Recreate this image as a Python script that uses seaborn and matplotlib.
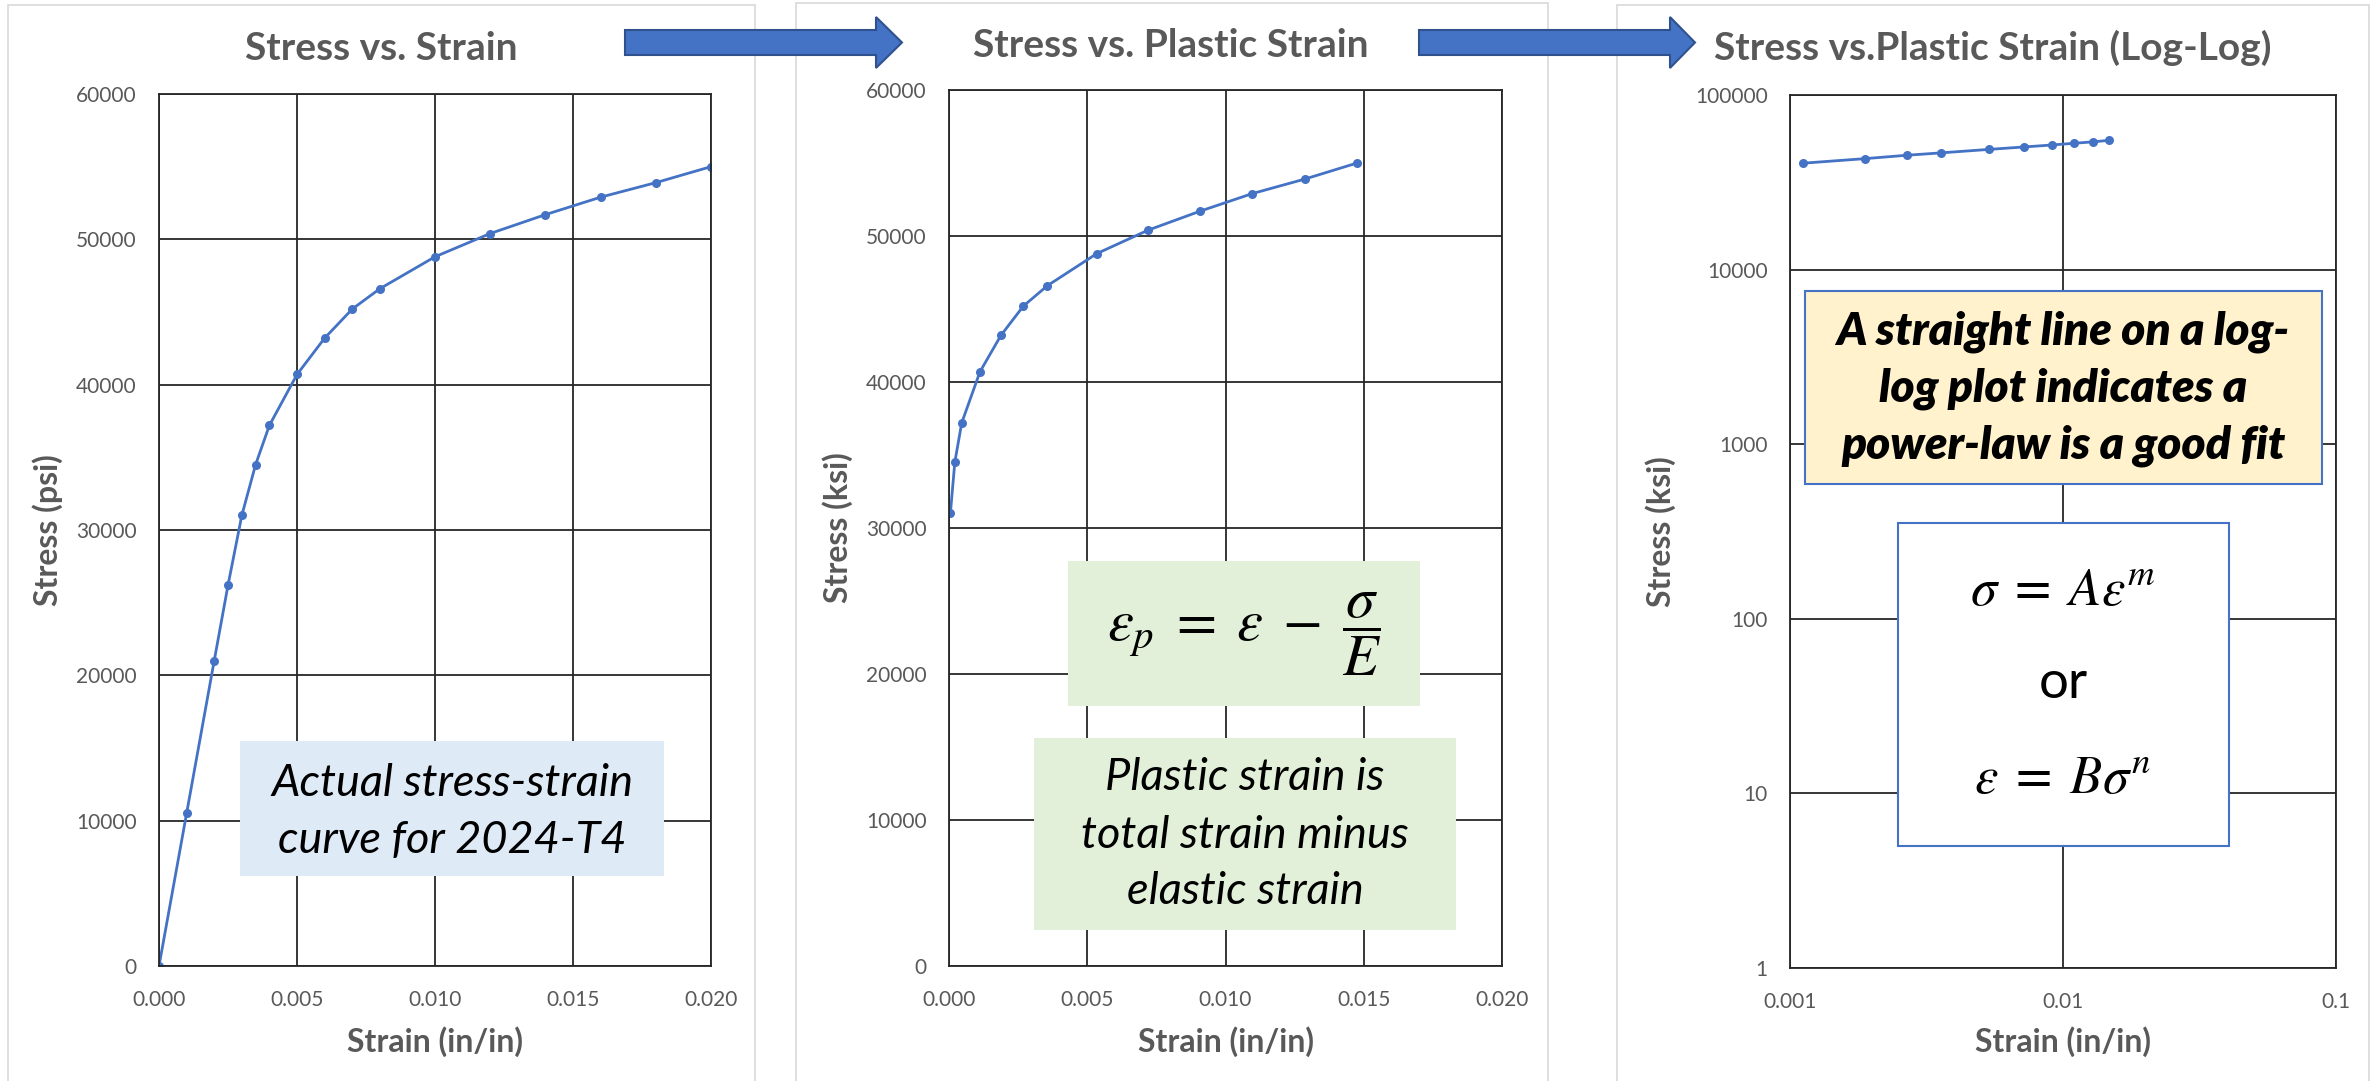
import matplotlib
matplotlib.use("Agg")
import matplotlib.pyplot as plt
import seaborn as sns
import pandas as pd
from matplotlib.patches import Rectangle, Polygon
from matplotlib.ticker import FixedLocator, NullLocator

# --- data -------------------------------------------------------------
strain = [0.0, 0.001, 0.002, 0.0025, 0.003, 0.0035, 0.004, 0.005, 0.006,
          0.007, 0.008, 0.010, 0.012, 0.014, 0.016, 0.018, 0.020]
stress = [0, 10500, 21000, 26200, 31000, 34500, 37200, 40700, 43200,
          45200, 46600, 48800, 50400, 51700, 52900, 53900, 55000]

plastic_strain = [0.00005, 0.00021, 0.00046, 0.00112, 0.00188, 0.00269, 0.00356,
                  0.00535, 0.00720, 0.00908, 0.01096, 0.01287, 0.01476]
plastic_stress = [31000, 34500, 37200, 40700, 43200, 45200, 46600,
                  48800, 50400, 51700, 52900, 53900, 55000]

lin_xticks = [0.000, 0.005, 0.010, 0.015, 0.020]
lin_xlabels = ["0.000", "0.005", "0.010", "0.015", "0.020"]
lin_yticks = [0, 10000, 20000, 30000, 40000, 50000, 60000]
lin_ylabels = ["0", "10000", "20000", "30000", "40000", "50000", "60000"]
log_xticks = [0.001, 0.01, 0.1]
log_xlabels = ["0.001", "0.01", "0.1"]
log_yticks = [1, 10, 100, 1000, 10000, 100000]
log_ylabels = ["1", "10", "100", "1000", "10000", "100000"]

titles = ["Stress vs. Strain", "Stress vs. Plastic Strain",
          "Stress vs.Plastic Strain (Log-Log)"]
xlabel = "Strain (in/in)"
ylabels = ["Stress (psi)", "Stress (ksi)", "Stress (ksi)"]

# --- style --------------------------------------------------------------
sns.set_theme(style="white")
plt.rcParams["font.family"] = ["Lato", "DejaVu Sans"]
plt.rcParams["mathtext.fontset"] = "stix"

LINE = "#4472C4"
GREY = "#595959"
GRID = "#262626"

W, H = 2379, 1081
fig = plt.figure(figsize=(W / 100, H / 100), dpi=100)
fig.patch.set_facecolor("white")


def fx(x):
    return x / W


def fy(y):
    return 1 - y / H


def px_box(l, t, r, b):
    return [fx(l), fy(b), (r - l) / W, (b - t) / H]


def add_rect(l, t, r, b, face, edge=None, lw=0, z=1):
    fig.patches.append(Rectangle((fx(l), fy(b)), (r - l) / W, (b - t) / H,
                                 transform=fig.transFigure, facecolor=face,
                                 edgecolor=edge if edge else "none",
                                 linewidth=lw, zorder=z))


# panel frames
for l, t, r in [(8, 5, 755), (796, 3, 1548), (1617, 5, 2369)]:
    add_rect(l, t, r, H + 10, "none", "#D9D9D9", 1.2, z=0)

axes_px = [(159, 94, 711, 966), (949, 90, 1502, 966), (1790, 95, 2336, 968)]
axs = [fig.add_axes(px_box(*p)) for p in axes_px]

df1 = pd.DataFrame({"strain": strain, "stress": stress})
df2 = pd.DataFrame({"strain": plastic_strain, "stress": plastic_stress})
df3 = df2[df2["strain"] >= log_xticks[0]]

for ax, df in zip(axs, [df1, df2, df3]):
    sns.lineplot(data=df, x="strain", y="stress", ax=ax, color=LINE,
                 linewidth=2.0, marker="o", markersize=6.5,
                 markeredgewidth=0, sort=False, estimator=None)

for ax in axs[:2]:
    ax.set_xlim(lin_xticks[0], lin_xticks[-1])
    ax.set_ylim(lin_yticks[0], lin_yticks[-1])
    ax.set_xticks(lin_xticks, lin_xlabels)
    ax.set_yticks(lin_yticks, lin_ylabels)

ax = axs[2]
ax.set_xscale("log")
ax.set_yscale("log")
ax.set_xlim(log_xticks[0], log_xticks[-1])
ax.set_ylim(log_yticks[0], log_yticks[-1])
ax.xaxis.set_major_locator(FixedLocator(log_xticks))
ax.yaxis.set_major_locator(FixedLocator(log_yticks))
ax.xaxis.set_minor_locator(NullLocator())
ax.yaxis.set_minor_locator(NullLocator())
ax.set_xticklabels(log_xlabels)
ax.set_yticklabels(log_ylabels)

for i, (ax, p) in enumerate(zip(axs, axes_px)):
    l, t, r, b = p
    ax.set_facecolor("white")
    ax.grid(True, color=GRID, linewidth=1.3)
    ax.set_axisbelow(True)
    for s in ax.spines.values():
        s.set_visible(True)
        s.set_color(GRID)
        s.set_linewidth(1.3)
    ax.tick_params(axis="both", length=0, labelsize=15, labelcolor=GREY)
    ax.tick_params(axis="x", pad=17)
    ax.tick_params(axis="y", pad=16)
    ax.set_xlabel(xlabel, fontsize=23, fontweight="bold", color=GREY)
    ax.set_ylabel(ylabels[i], fontsize=23, fontweight="bold", color=GREY)
    ax.xaxis.label.set_va("center")
    ax.yaxis.label.set_va("center")
    ax.xaxis.set_label_coords(0.5, -(1042 - b) / (b - t))
    ylab_x = [48, 838, 1661][i]
    ax.yaxis.set_label_coords((ylab_x - l) / (r - l), 0.5)

# titles
for txt, x, y in zip(titles, [381, 1171, 1993], [60, 57, 60]):
    fig.text(fx(x), fy(y), txt, ha="center", va="baseline", fontsize=28,
             fontweight="bold", color=GREY)

# arrows between panels
for x0, xb, xt in [(625, 876, 902), (1419, 1670, 1695)]:
    yc = 42.5
    pts = [(x0, 30), (xb, 30), (xb, 17), (xt, yc), (xb, 68), (xb, 55), (x0, 55)]
    fig.patches.append(Polygon([(fx(a), fy(c)) for a, c in pts], closed=True,
                               transform=fig.transFigure, facecolor="#4472C4",
                               edgecolor="#2F528F", linewidth=1.5, zorder=2))

# annotation boxes
add_rect(240, 741, 664, 876, "#DEEBF7", z=1)
fig.text(fx(452), fy(783), "Actual stress-strain", ha="center", va="center",
         fontsize=32.5, style="italic", color="black")
fig.text(fx(452), fy(840), "curve for 2024-T4", ha="center", va="center",
         fontsize=32.5, style="italic", color="black")

add_rect(1068, 561, 1420, 706, "#E2F0D9", z=1)
fig.text(fx(1244), fy(634),
         r"$\varepsilon_p \;=\; \varepsilon \;-\; \dfrac{\sigma}{E}$",
         ha="center", va="center", fontsize=42, color="black")

add_rect(1034, 738, 1456, 930, "#E2F0D9", z=1)
for line, y in zip(["Plastic strain is", "total strain minus", "elastic strain"],
                   [778, 835, 892]):
    fig.text(fx(1245), fy(y), line, ha="center", va="center", fontsize=32.5,
             style="italic", color="black")

add_rect(1805, 291, 2322, 484, "#FFF2CC", "#4472C4", 1.5, z=1)
for line, y in zip(["A straight line on a log-", "log plot indicates a",
                    "power-law is a good fit"], [332, 389, 446]):
    fig.text(fx(2063), fy(y), line, ha="center", va="center", fontsize=33,
             style="italic", fontweight="heavy", color="black")

add_rect(1898, 523, 2229, 846, "white", "#4472C4", 1.5, z=1)
fig.text(fx(2063), fy(590), r"$\sigma \;=\; A\varepsilon^m$", ha="center",
         va="center", fontsize=38, color="black")
fig.text(fx(2063), fy(683), "or", ha="center", va="center", fontsize=38,
         color="black")
fig.text(fx(2063), fy(779), r"$\varepsilon \;=\; B\sigma^n$", ha="center",
         va="center", fontsize=38, color="black")

fig.savefig("out.png", dpi=100, facecolor="white")
